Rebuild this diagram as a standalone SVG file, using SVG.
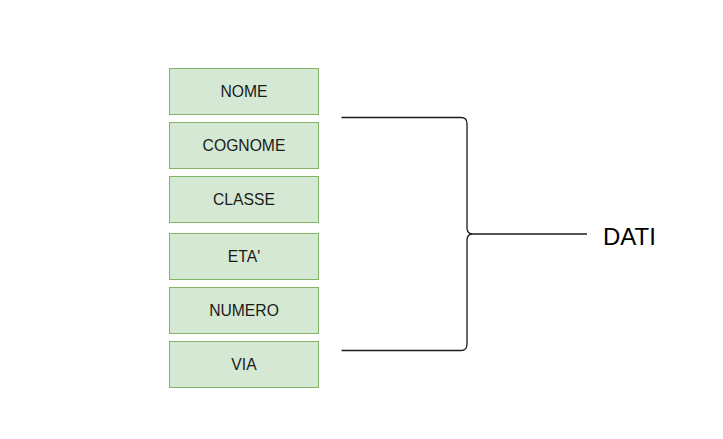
<svg xmlns="http://www.w3.org/2000/svg" width="723" height="439" viewBox="0 0 723 439">
<style>
.box{fill:#d5e8d4;stroke:#82b366;stroke-width:1}
.lbl{font-family:"Liberation Sans",Arial,sans-serif;font-size:15.7px;fill:#1a1a1a;text-anchor:middle}
.con{fill:none;stroke:#1a1a1a;stroke-width:1.3}
</style>
<rect width="723" height="439" fill="#ffffff"/>
<g id="nome"><rect class="box" x="169.5" y="68.5" width="149" height="46"/><text class="lbl" x="244" y="97">NOME</text></g>
<g id="cognome"><rect class="box" x="169.5" y="122.5" width="149" height="46"/><text class="lbl" x="244" y="151">COGNOME</text></g>
<g id="classe"><rect class="box" x="169.5" y="176.5" width="149" height="46"/><text class="lbl" x="244" y="205">CLASSE</text></g>
<g id="eta"><rect class="box" x="169.5" y="233.5" width="149" height="46"/><text class="lbl" x="244" y="262">ETA'</text></g>
<g id="numero"><rect class="box" x="169.5" y="287.5" width="149" height="46"/><text class="lbl" x="244" y="316">NUMERO</text></g>
<g id="via"><rect class="box" x="169.5" y="341.5" width="149" height="46"/><text class="lbl" x="244" y="370">VIA</text></g>
<g id="connectors">
<path class="con" d="M341.5,117.5 H461 Q467,117.5 467,123.5 V228 Q467,234 473,234 Q467,234 467,240 V344 Q467,350.5 461,350.5 H341.5"/>
<path class="con" d="M473,234 H587"/>
</g>
<g id="dati"><text x="603" y="244.5" font-family="'Liberation Sans',Arial,sans-serif" font-size="24" fill="#000">DATI</text></g>
</svg>
